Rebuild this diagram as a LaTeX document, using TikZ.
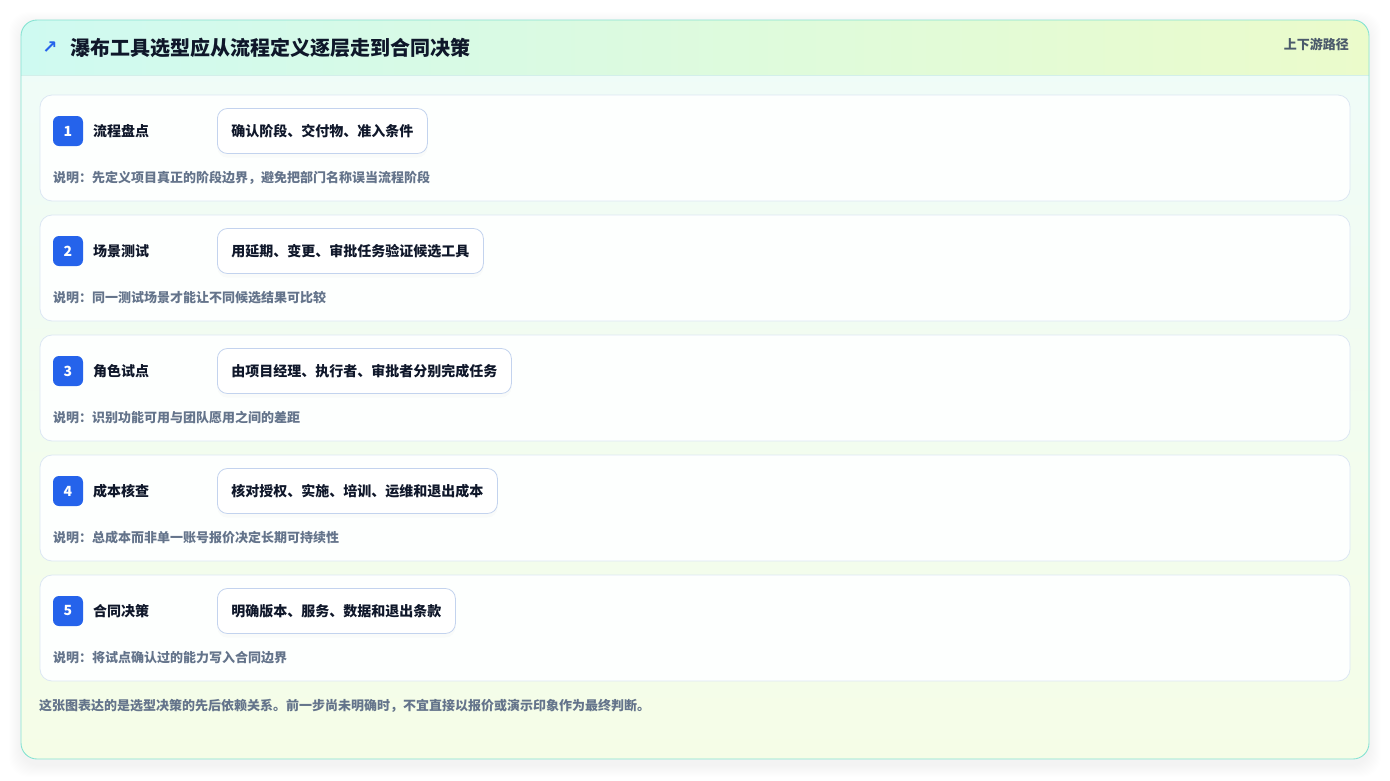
\documentclass[tikz,border=0pt]{standalone}
\usepackage{fontspec}
\setmainfont{Noto Sans CJK SC}
\newfontfamily\symfont{DejaVu Sans}
\usetikzlibrary{positioning,shadows}

\definecolor{cardline}{HTML}{86E3D2}
\definecolor{headleft}{HTML}{CFFAF1}
\definecolor{headright}{HTML}{EBFBCB}
\definecolor{headline}{HTML}{D3EFEA}
\definecolor{bodytop}{HTML}{EFFCF9}
\definecolor{bodybottom}{HTML}{F5FDE7}
\definecolor{rowfill}{HTML}{FDFFFE}
\definecolor{rowline}{HTML}{DCE7F3}
\definecolor{pillline}{HTML}{C3D3EE}
\definecolor{badgeblue}{HTML}{2563EB}
\definecolor{ink}{HTML}{0F172A}
\definecolor{muted}{HTML}{64748B}
\definecolor{tagink}{HTML}{4B5A6B}

\begin{document}
\begin{tikzpicture}[x=1pt,y=-1pt]
\tikzset{
  every node/.style={font=\bfseries, text=ink},
  rowbox/.style={draw=rowline, line width=0.8pt, fill=rowfill, rounded corners=12pt,
    minimum width=1310pt, minimum height=106pt, inner sep=0pt},
  badge/.style={fill=badgeblue, text=white, rounded corners=6pt, minimum size=30pt,
    inner sep=0pt, font=\bfseries\fontsize{14}{16}\selectfont},
  steplabel/.style={anchor=west, inner sep=0pt, font=\bfseries\fontsize{14}{16}\selectfont},
  pill/.style={draw=pillline, line width=0.8pt, fill=white, rounded corners=10pt,
    anchor=west, inner xsep=14pt, minimum height=45pt,
    drop shadow={opacity=0.03, shadow xshift=0pt, shadow yshift=-4pt},
    font=\bfseries\fontsize{14}{16}\selectfont},
  note/.style={anchor=west, inner sep=0pt, text=muted, font=\bfseries\fontsize{13}{15}\selectfont}
}

% page and card
\fill[white] (0,0) rectangle (1390,780);
\useasboundingbox (0,0) rectangle (1390,780);
\foreach \s in {1,...,12}
  \fill[black, opacity=0.005, rounded corners=20pt] (21-\s,24-\s) rectangle (1369+\s,765+\s);
\begin{scope}
  \clip[rounded corners=16pt] (21,20) rectangle (1369,759);
  \shade[top color=bodytop, bottom color=bodybottom] (21,20) rectangle (1369,759);
  \shade[left color=headleft, right color=headright] (21,20) rectangle (1369,75);
  \draw[headline] (21,75) -- (1369,75);
\end{scope}
\draw[cardline, line width=0.9pt, rounded corners=16pt] (21,20) rectangle (1369,759);

% header
\node[text=badgeblue, font=\symfont\bfseries\fontsize{18}{20}\selectfont] (icon) at (50,48) {↗};
\node[anchor=west, inner sep=0pt, font=\bfseries\fontsize{20}{24}\selectfont] (title) at (70,48)
  {瀑布工具选型应从流程定义逐层走到合同决策};
\node[anchor=east, inner sep=0pt, text=tagink, font=\bfseries\fontsize{13}{15}\selectfont] (tag) at (1349,44)
  {上下游路径};

% step 1
\node[rowbox] (row1) at (695,148) {};
\node[badge] (num1) at (68,131) {1};
\node[steplabel] (name1) at (93,131) {流程盘点};
\node[pill] (task1) at (217,131) {确认阶段、交付物、准入条件};
\node[note] (note1) at (53,178) {说明：先定义项目真正的阶段边界，避免把部门名称误当流程阶段};

% step 2
\node[rowbox] (row2) at (695,268) {};
\node[badge] (num2) at (68,251) {2};
\node[steplabel] (name2) at (93,251) {场景测试};
\node[pill] (task2) at (217,251) {用延期、变更、审批任务验证候选工具};
\node[note] (note2) at (53,298) {说明：同一测试场景才能让不同候选结果可比较};

% step 3
\node[rowbox] (row3) at (695,388) {};
\node[badge] (num3) at (68,371) {3};
\node[steplabel] (name3) at (93,371) {角色试点};
\node[pill] (task3) at (217,371) {由项目经理、执行者、审批者分别完成任务};
\node[note] (note3) at (53,418) {说明：识别功能可用与团队愿用之间的差距};

% step 4
\node[rowbox] (row4) at (695,508) {};
\node[badge] (num4) at (68,491) {4};
\node[steplabel] (name4) at (93,491) {成本核查};
\node[pill] (task4) at (217,491) {核对授权、实施、培训、运维和退出成本};
\node[note] (note4) at (53,538) {说明：总成本而非单一账号报价决定长期可持续性};

% step 5
\node[rowbox] (row5) at (695,628) {};
\node[badge] (num5) at (68,611) {5};
\node[steplabel] (name5) at (93,611) {合同决策};
\node[pill] (task5) at (217,611) {明确版本、服务、数据和退出条款};
\node[note] (note5) at (53,658) {说明：将试点确认过的能力写入合同边界};

% footer
\node[note] (footer) at (39,706)
  {这张图表达的是选型决策的先后依赖关系。前一步尚未明确时，不宜直接以报价或演示印象作为最终判断。};

\end{tikzpicture}
\end{document}
